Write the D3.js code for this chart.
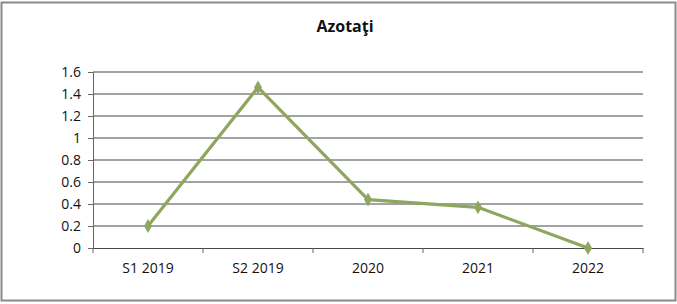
<!DOCTYPE html>
<html>
<head>
<meta charset="utf-8">
<script src="https://cdn.jsdelivr.net/npm/d3@7"></script>
<style>
  body { margin: 0; background: #fff; }
  svg { display: block; font-family: "Open Sans", "Noto Sans", sans-serif; }
</style>
</head>
<body>
<div id="chart"></div>
<script>
// Azotati - line chart
const categories = ["S1 2019", "S2 2019", "2020", "2021", "2022"];
const values = [0.2, 1.46, 0.44, 0.37, 0];
const y_ticks = [0, 0.2, 0.4, 0.6, 0.8, 1, 1.2, 1.4, 1.6];
const chart_title = "Azotaţi";

const width = 677;
const height = 304;
const margin = { top: 72, right: 34, bottom: 56, left: 93 };
const inner_width = width - margin.left - margin.right;
const inner_height = height - margin.top - margin.bottom;

const svg = d3.select("#chart").append("svg")
    .attr("width", width)
    .attr("height", height);

// outer frame
svg.append("rect")
    .attr("x", 1.5).attr("y", 2.5)
    .attr("width", width - 3).attr("height", height - 6)
    .attr("fill", "#fff")
    .attr("stroke", "#8a8a8a")
    .attr("stroke-width", 2);

svg.append("text")
    .attr("x", 345).attr("y", 32)
    .attr("text-anchor", "middle")
    .style("font-size", "16px")
    .style("font-weight", "bold")
    .style("fill", "#111")
    .text(chart_title);

const g = svg.append("g")
    .attr("transform", `translate(${margin.left},${margin.top})`);

const x_scale = d3.scaleBand().domain(categories).range([0, inner_width]);
const y_scale = d3.scaleLinear().domain([0, 1.6]).range([inner_height, 0]);

// gridlines
g.append("g")
    .selectAll("line")
    .data(y_ticks.filter(d => d > 0))
    .join("line")
    .attr("x1", 0).attr("x2", inner_width)
    .attr("y1", d => y_scale(d)).attr("y2", d => y_scale(d))
    .attr("stroke", "#474747")
    .attr("stroke-width", 1);

// y axis
const y_axis_g = g.append("g")
    .call(d3.axisLeft(y_scale).tickValues(y_ticks).tickSize(5).tickPadding(7).tickFormat(d3.format("")))
    .call(a => a.select(".domain").attr("stroke", "#666"));
y_axis_g.selectAll(".tick line").attr("stroke", "#666");
y_axis_g.selectAll("text")
    .style("font-size", "14px")
    .style("fill", "#111")
    .style("font-family", "\"Open Sans\", sans-serif");

// x axis
const x_axis_g = g.append("g")
    .attr("transform", `translate(0,${inner_height})`)
    .call(d3.axisBottom(x_scale).tickSize(0).tickPadding(15));
x_axis_g.select(".domain").attr("stroke", "#474747").attr("stroke-width", 1);
x_axis_g.selectAll("text")
    .style("font-size", "14px")
    .style("fill", "#111")
    .style("font-family", "\"Open Sans\", sans-serif");

// x boundary ticks
const boundaries = categories.map(c => x_scale(c)).concat([inner_width]);
g.append("g")
    .selectAll("line")
    .data(boundaries)
    .join("line")
    .attr("x1", d => d).attr("x2", d => d)
    .attr("y1", inner_height).attr("y2", inner_height + 5)
    .attr("stroke", "#666");

// series line
const line = d3.line()
    .x((d, i) => x_scale(categories[i]) + x_scale.bandwidth() / 2)
    .y(d => y_scale(d));

g.append("path")
    .datum(values)
    .attr("d", line)
    .attr("fill", "none")
    .attr("stroke", "#8ea65e")
    .attr("stroke-width", 3.2)
    .attr("stroke-linejoin", "round");

g.selectAll("path.marker")
    .data(values)
    .join("path")
    .attr("class", "marker")
    .attr("d", d3.symbol().type(d3.symbolDiamond).size(55))
    .attr("transform", (d, i) => `translate(${x_scale(categories[i]) + x_scale.bandwidth() / 2},${y_scale(d)})`)
    .attr("fill", "#8ea65e");
</script>
</body>
</html>
